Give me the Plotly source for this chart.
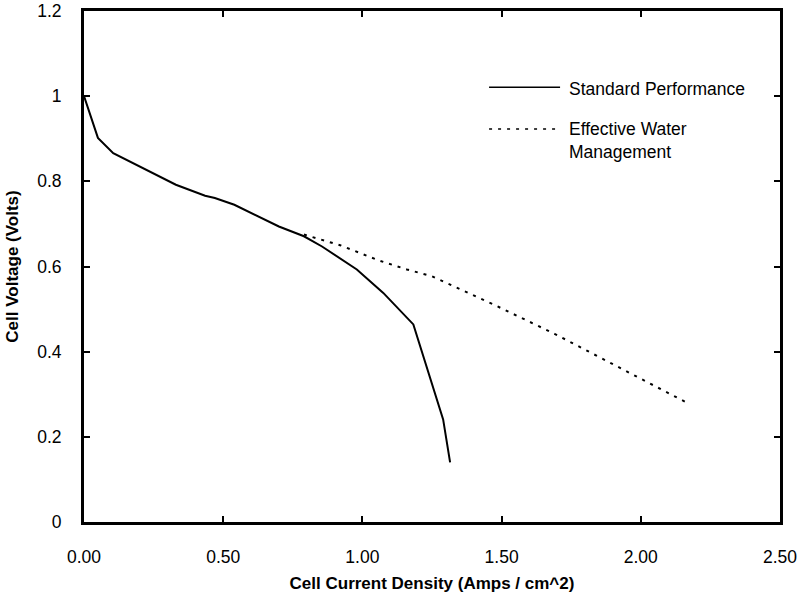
import plotly.graph_objects as go

# Data
std_x = [0.0, 0.05, 0.105, 0.33, 0.435, 0.47, 0.54, 0.70, 0.79, 0.855, 0.98, 1.075, 1.183, 1.29, 1.315]
std_y = [1.0, 0.902, 0.866, 0.792, 0.766, 0.761, 0.745, 0.694, 0.671, 0.647, 0.593, 0.538, 0.464, 0.241, 0.14]

eff_x = [0.79, 0.92, 1.06, 1.16, 1.25, 1.48, 1.69, 2.16]
eff_y = [0.675, 0.65, 0.614, 0.593, 0.577, 0.508, 0.442, 0.282]

series_names = ["Standard Performance", "Effective Water<br>Management"]

x_ticks = [0.0, 0.5, 1.0, 1.5, 2.0, 2.5]
x_ticktext = ["0.00", "0.50", "1.00", "1.50", "2.00", "2.50"]
y_ticks = [0.0, 0.2, 0.4, 0.6, 0.8, 1.0, 1.2]
y_ticktext = ["0", "0.2", "0.4", "0.6", "0.8", "1", "1.2"]

FONT = "Liberation Sans, Arial, Helvetica, sans-serif"

fig = go.Figure()
fig.add_trace(go.Scatter(x=std_x, y=std_y, mode="lines", name=series_names[0],
                         line=dict(color="black", width=2), showlegend=False))
fig.add_trace(go.Scatter(x=eff_x, y=eff_y, mode="lines", name=series_names[1],
                         line=dict(color="black", width=2, dash="3px,6px"), showlegend=False))

# Legend drawn as shapes + annotations in paper coordinates
legend_items = [
    dict(name=series_names[0], dash="solid", ly=0.851, ty=0.847, x1=0.684),
    dict(name=series_names[1], dash="3px,6px", ly=0.769, ty=0.746, x1=0.678),
]
for it in legend_items:
    fig.add_shape(type="line", xref="paper", yref="paper",
                  x0=0.582, x1=it["x1"], y0=it["ly"], y1=it["ly"],
                  line=dict(color="black", width=1.5, dash=it["dash"]))
    fig.add_annotation(xref="paper", yref="paper", x=0.694, y=it["ty"],
                       text=it["name"], showarrow=False, xanchor="left", yanchor="middle",
                       align="left", font=dict(family=FONT, size=17.5, color="black"))

axis_common = dict(showline=True, linecolor="black", linewidth=3, mirror="ticks",
                   ticks="inside", ticklen=6, tickwidth=2, tickcolor="black",
                   showgrid=False, zeroline=False, automargin=False,
                   tickfont=dict(family=FONT, size=17.5, color="black"))

fig.update_layout(
    width=801, height=599,
    margin=dict(l=84, r=21, t=11, b=77),
    paper_bgcolor="white", plot_bgcolor="white",
    xaxis=dict(range=[0, 2.5], tickvals=x_ticks, ticktext=x_ticktext,
               title=dict(text="<b>Cell Current Density (Amps / cm^2)</b>",
                          font=dict(family=FONT, size=17, color="black"), standoff=12),
               ticklabelstandoff=17, **axis_common),
    yaxis=dict(range=[0, 1.2], tickvals=y_ticks, ticktext=y_ticktext,
               title=dict(text="<b>Cell Voltage (Volts)</b>",
                          font=dict(family=FONT, size=17, color="black"), standoff=15),
               ticklabelstandoff=16, **axis_common),
)

fig.write_html("out.html")
